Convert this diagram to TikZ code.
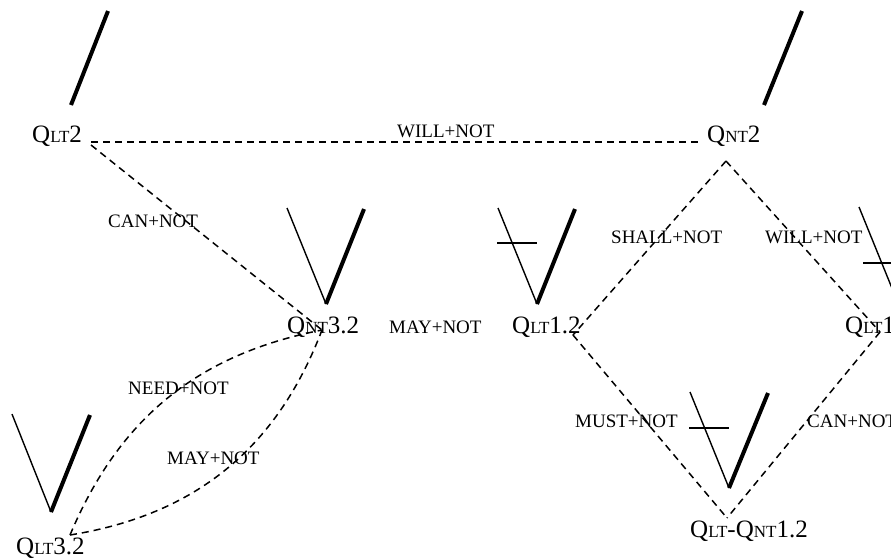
\documentclass[tikz,border=0pt]{standalone}
\usepackage{fontspec}
\setmainfont{Liberation Serif}
\usepackage{tikz}
\newcommand{\lsc}[1]{{\fontsize{17}{19}\selectfont #1}}

\begin{document}
\begin{tikzpicture}[x=1pt, y=-1pt,
  lbl/.style={inner sep=0pt, anchor=base west, font=\fontsize{25}{30}\selectfont},
  rel/.style={inner sep=0pt, anchor=base west, font=\fontsize{19}{22}\selectfont},
  link/.style={dash pattern=on 7pt off 5pt, line width=1.5pt},
  armthin/.style={line width=1.4pt},
  armthick/.style={line width=4pt},
  crossbar/.style={line width=1.4pt}
]
  \useasboundingbox (0,0) rectangle (891,558);

  % glyphs
  \draw[armthick] (71,105) -- (108,11);
  \draw[armthick] (764,105) -- (802,11);
  \draw[armthin] (287,208) -- (326,304);
  \draw[armthick] (326,304) -- (364,209);
  \draw[armthin] (498,208) -- (537,304);
  \draw[armthick] (537,304) -- (575,209);
  \draw[crossbar] (497,243) -- (537,243);
  \draw[armthin] (859,207) -- (898,303);
  \draw[armthick] (898,303) -- (936,208);
  \draw[crossbar] (863,263) -- (903,263);
  \draw[armthin] (690,392) -- (729,488);
  \draw[armthick] (729,488) -- (768,393);
  \draw[crossbar] (689,428) -- (729,428);
  \draw[armthin] (12,414) -- (51,512);
  \draw[armthick] (51,512) -- (90,415);

  % node labels
  \node[lbl] (qlt2)   at (32,142)  {Q\lsc{LT}2};
  \node[lbl] (qnt2)   at (707,142) {Q\lsc{NT}2};
  \node[lbl] (qnt32)  at (287,333) {Q\lsc{NT}3.2};
  \node[lbl] (qlt12)  at (512,333) {Q\lsc{LT}1.2};
  \node[lbl] (qlt11)  at (845,333) {Q\lsc{LT}1.1};
  \node[lbl] (qltnt)  at (690,537) {Q\lsc{LT}-Q\lsc{NT}1.2};
  \node[lbl] (qlt32)  at (16,554)  {Q\lsc{LT}3.2};

  % connection points
  \coordinate (qlt2-e)  at (91,142);
  \coordinate (qlt2-se) at (91,145);
  \coordinate (qnt2-w)  at (700,142);
  \coordinate (qnt2-s)  at (726,161);
  \coordinate (qnt32-c) at (322,330);
  \coordinate (qlt12-e) at (573,335);
  \coordinate (qlt11-c) at (880,332);
  \coordinate (qltnt-n) at (727,518);
  \coordinate (qlt32-n) at (70,535);

  \draw[link] (qlt2-e) -- (qnt2-w);
  \draw[link] (qlt2-se) -- (qnt32-c);
  \draw[link] (qnt2-s) -- (qlt12-e);
  \draw[link] (qnt2-s) -- (qlt11-c);
  \draw[link] (qlt12-e) -- (qltnt-n);
  \draw[link] (qlt11-c) -- (qltnt-n);
  \draw[link] (qlt32-n) to[bend left=28] (qnt32-c);
  \draw[link] (qlt32-n) to[bend right=30] (qnt32-c);

  % relation labels
  \node[rel] (r-will1)  at (397,137) {WILL+NOT};
  \node[rel] (r-can1)   at (108,227) {CAN+NOT};
  \node[rel] (r-may1)   at (389,333) {MAY+NOT};
  \node[rel] (r-shall)  at (611,243) {SHALL+NOT};
  \node[rel] (r-will2)  at (765,243) {WILL+NOT};
  \node[rel] (r-need)   at (128,394) {NEED+NOT};
  \node[rel] (r-may2)   at (167,464) {MAY+NOT};
  \node[rel] (r-must)   at (575,427) {MUST+NOT};
  \node[rel] (r-can2)   at (807,427) {CAN+NOT};
\end{tikzpicture}
\end{document}
